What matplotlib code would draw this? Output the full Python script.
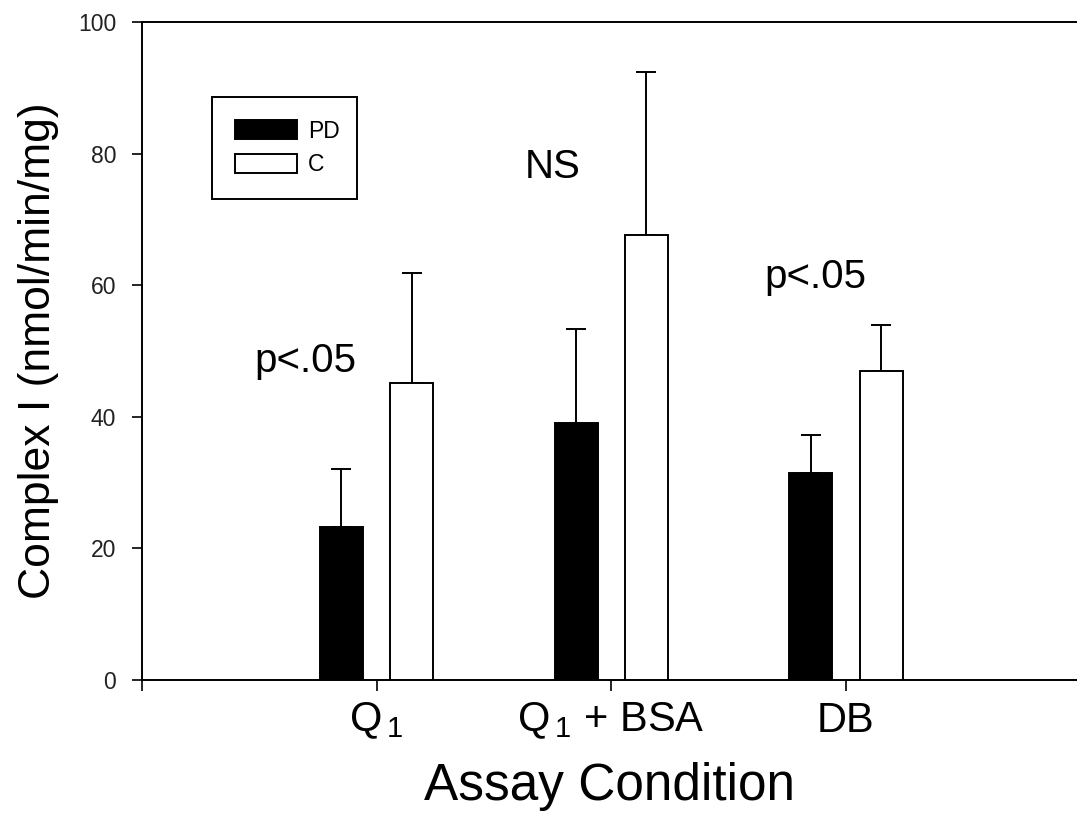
import numpy as np
import matplotlib
matplotlib.use('Agg')
import matplotlib.pyplot as plt

plt.rcParams['font.family'] = ['Liberation Sans', 'DejaVu Sans']
plt.rcParams['mathtext.fontset'] = 'custom'
plt.rcParams['mathtext.rm'] = 'Liberation Sans'
plt.rcParams['mathtext.default'] = 'regular'

# data
conditions = ['Q$_{\\,1}$', 'Q$_{\\,1}$ + BSA', 'DB']
pd_mean = [23.3, 39.1, 31.5]
pd_err = [8.8, 14.2, 5.7]
c_mean = [45.1, 67.6, 47.0]
c_err = [16.7, 24.8, 7.0]
notes = ['p<.05', 'NS', 'p<.05']
note_x = [0.695, 1.749, 2.868]
note_y = [46.8, 76.3, 59.5]

x = np.arange(1, len(conditions) + 1)
w = 0.183
off = 0.15

fig = plt.figure(figsize=(10.77, 8.16), dpi=100)
ax = fig.add_axes([0.1318, 0.1667, 0.8682, 0.8064])

ax.bar(x - off, pd_mean, w, color='black', edgecolor='black', linewidth=1.4,
       label='PD', zorder=3)
ax.bar(x + off, c_mean, w, color='white', edgecolor='black', linewidth=1.4,
       label='C', zorder=3)
ax.errorbar(x - off, pd_mean, yerr=[np.zeros(3), pd_err], fmt='none',
            ecolor='black', elinewidth=1.4, capsize=7, capthick=1.4, zorder=2)
ax.errorbar(x + off, c_mean, yerr=[np.zeros(3), c_err], fmt='none',
            ecolor='black', elinewidth=1.4, capsize=7, capthick=1.4, zorder=2)

for t, tx, ty in zip(notes, note_x, note_y):
    ax.text(tx, ty, t, ha='center', va='baseline', fontsize=29)

ax.set_xlim(0, 3.985)
ax.set_ylim(0, 100)
ax.set_xticks([0, 1, 2, 3])
ax.set_xticklabels([''] + conditions, fontsize=30)
ax.set_yticks(np.arange(0, 101, 20))
ax.tick_params(axis='y', direction='out', length=7.5, width=1.2, pad=11,
               labelsize=16.5, labelcolor='#222222')
ax.tick_params(axis='x', direction='out', length=8, width=1.2, pad=7)

ax.spines['right'].set_visible(False)
for s in ['left', 'bottom', 'top']:
    ax.spines[s].set_linewidth(1.4)

ax.set_ylabel('Complex I (nmol/min/mg)', fontsize=32, labelpad=14)
ax.set_xlabel('Assay Condition', fontsize=37, labelpad=15)

leg = ax.legend(loc='upper left', bbox_to_anchor=(0.0749, 0.734, 0.155, 0.152),
                mode='expand', fontsize=16.5, frameon=True, fancybox=False,
                edgecolor='black', framealpha=1, borderpad=1.0,
                handlelength=2.7, handleheight=0.9, handletextpad=0.5,
                labelspacing=0.45, borderaxespad=0)
leg.get_frame().set_linewidth(1.4)

plt.savefig('out.png', dpi=100)
